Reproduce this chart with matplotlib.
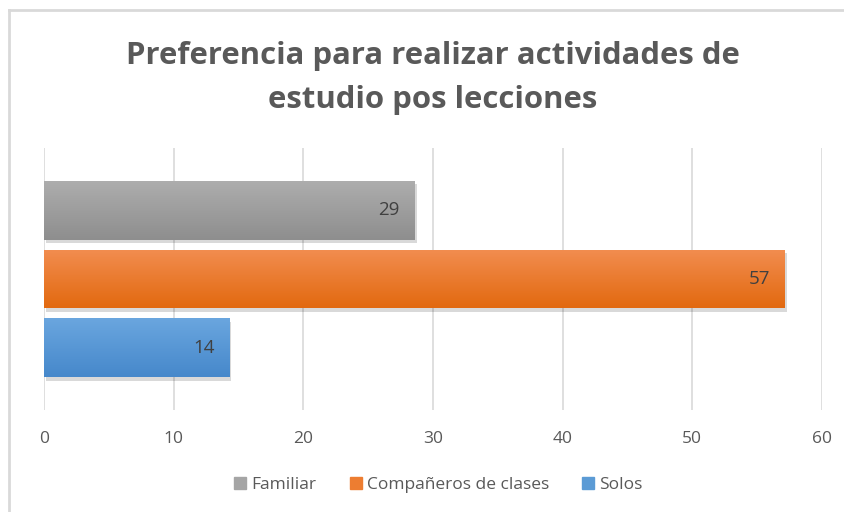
import matplotlib
matplotlib.use('Agg')
import matplotlib.pyplot as plt
import matplotlib.patheffects as pe
import numpy as np
from matplotlib.lines import Line2D
from matplotlib.patches import Patch

# %% data
title = 'Preferencia para realizar actividades de\nestudio pos lecciones'
series = ['Familiar', 'Compañeros de clases', 'Solos']
values = [28.57, 57.14, 14.29]  # percent
colors_top = ['#adadad', '#f28d50', '#6aa6df']
colors_bot = ['#8e8e8e', '#e2690f', '#4688cb']
legend_colors = ['#a5a5a5', '#ed7d31', '#5b9bd5']
xticks = [0, 10, 20, 30, 40, 50, 60]

plt.rcParams['font.family'] = ['Open Sans', 'DejaVu Sans']

fig = plt.figure(figsize=(8.45, 5.12), dpi=100)
ax = fig.add_axes([44 / 845, 1 - 410 / 512, 778 / 845, 262 / 512])

# outer frame (left + top only visible)
fig.add_artist(Line2D([9 / 845, 9 / 845], [0, 1 - 10 / 512], transform=fig.transFigure,
                      color='#d9d9d9', lw=2))
fig.add_artist(Line2D([9 / 845, 1], [1 - 10 / 512, 1 - 10 / 512], transform=fig.transFigure,
                      color='#d9d9d9', lw=2))

h = 0.855
ypos = [2, 1, 0]
for y, v, ct, cb in zip(ypos, values, colors_top, colors_bot):
    bar = ax.barh(y, v, height=h, color=cb, zorder=3,
                  path_effects=[pe.SimplePatchShadow(offset=(1.5, -2.5), shadow_rgbFace='k', alpha=0.15),
                                pe.Normal()])[0]
    # vertical gradient
    grad = np.linspace(0, 1, 64).reshape(-1, 1)
    c1 = np.array(matplotlib.colors.to_rgb(ct))
    c2 = np.array(matplotlib.colors.to_rgb(cb))
    img = c2 + (c1 - c2) * grad[..., None]
    im = ax.imshow(img, extent=(0, v, y - h / 2, y + h / 2), origin='lower',
                   aspect='auto', zorder=4)
    im.set_clip_path(bar)
    ax.text(v - 1.15, y, '%d' % round(v), ha='right', va='center', fontsize=13.5,
            color='#404040', zorder=5)

ax.set_xlim(0, 60)
ax.set_ylim(1 - 1.899, 1 + 1.899)
ax.set_xticks(xticks)
ax.set_yticks([])
ax.xaxis.grid(True, color='#d9d9d9', lw=1.2, zorder=0)
for s in ax.spines.values():
    s.set_visible(False)
ax.tick_params(axis='x', length=0, pad=15, labelsize=12.5, labelcolor='#595959')

fig.text(433 / 845, 1 - 78 / 512, title, ha='center', va='center', fontsize=22.4,
         fontweight='bold', color='#595959', linespacing=1.64)

handles = [Patch(color=c) for c in legend_colors]
fig.legend(handles, series, loc='center', bbox_to_anchor=(0.519, 1 - 485 / 512), ncol=3,
           frameon=False, fontsize=12.5, labelcolor='#595959', handlelength=0.7,
           handleheight=0.7, handletextpad=0.3, columnspacing=1.9)

fig.savefig('out.png', dpi=100)
